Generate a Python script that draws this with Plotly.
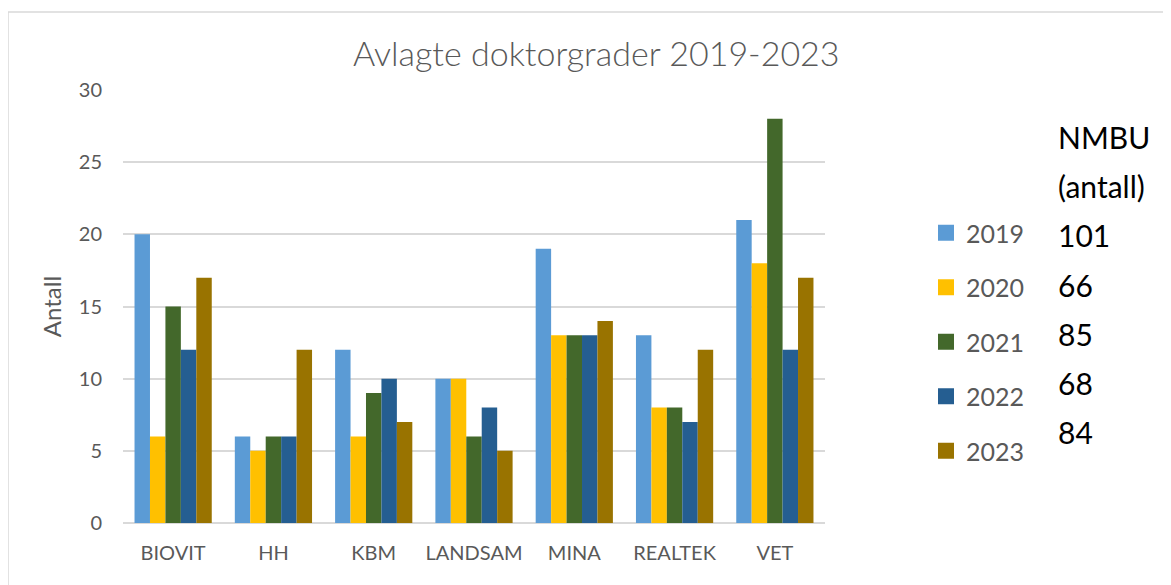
import plotly.graph_objects as go

categories = ["BIOVIT", "HH", "KBM", "LANDSAM", "MINA", "REALTEK", "VET"]
years = ["2019", "2020", "2021", "2022", "2023"]
v2019 = [20, 6, 12, 10, 19, 13, 21]
v2020 = [6, 5, 6, 10, 13, 8, 18]
v2021 = [15, 6, 9, 6, 13, 8, 28]
v2022 = [12, 6, 10, 8, 13, 7, 12]
v2023 = [17, 12, 7, 5, 14, 12, 17]
series = [v2019, v2020, v2021, v2022, v2023]
colors = ["#5B9BD5", "#FFC000", "#43682B", "#255E91", "#997300"]
totals = [sum(s) for s in series]

OFF = 8  # page body margin
W, H = 1171 - OFF, 585 - OFF
L, R, T, B = 123 - OFF, 825 - OFF, 90 - OFF, 523 - OFF
FONT = "Lato"
GRAY = "#595959"

fig = go.Figure()
for y, vals, c in zip(years, series, colors):
    fig.add_trace(go.Bar(name=y, x=categories, y=vals, marker=dict(color=c, line=dict(width=0)),
                         showlegend=False))
    fig.add_trace(go.Scatter(name=y, x=[None], y=[None], mode="markers",
                             marker=dict(symbol="square", size=16, color=c),
                             legendgroup=y, showlegend=True))

def px(x):
    return (x - OFF - L) / (R - L)

def py(y):
    return (B - (y - OFF)) / (B - T)

annotations = [
    dict(text="Avlagte doktorgrader 2019-2023", x=px(596), y=py(53), xref="paper", yref="paper",
         showarrow=False, font=dict(family=FONT, size=34, color=GRAY, weight=300),
         xanchor="center", yanchor="middle"),
]
labels = ["NMBU", "(antall)"] + [str(t) for t in totals]
for i, lab in enumerate(labels):
    annotations.append(dict(text=lab, x=px(1056), y=py(137 + 49.2 * i), xref="paper", yref="paper",
                            showarrow=False, xanchor="left", yanchor="middle",
                            font=dict(family=FONT, size=30, color="black")))

fig.update_layout(
    width=W, height=H,
    margin=dict(l=L, r=W - R, t=T, b=H - B, autoexpand=False),
    paper_bgcolor="white", plot_bgcolor="white",
    barmode="group", bargap=0.23, bargroupgap=0,
    font=dict(family=FONT, color=GRAY),
    showlegend=True,
    legend=dict(x=px(926), xanchor="left", y=py(210), yanchor="top",
                font=dict(family=FONT, size=25, color=GRAY),
                tracegroupgap=19, itemsizing="trace", bgcolor="rgba(0,0,0,0)"),
    annotations=annotations,
    shapes=[dict(type="rect", xref="paper", yref="paper", x0=px(8), x1=px(1300), y0=py(700), y1=py(12),
                 line=dict(color="#D9D9D9", width=1.5), fillcolor="rgba(0,0,0,0)", layer="below")],
)
fig.update_xaxes(showgrid=False, showline=False, ticks="", tickfont=dict(family=FONT, size=20, color=GRAY),
                 ticklabelstandoff=16)
fig.update_yaxes(range=[0, 30], dtick=5, showgrid=True, gridcolor="#D9D9D9", gridwidth=1.5,
                 zeroline=True, zerolinecolor="#D9D9D9", zerolinewidth=2, showline=False, ticks="",
                 tickfont=dict(family=FONT, size=20, color=GRAY), ticklabelstandoff=20,
                 title=dict(text="Antall", font=dict(family=FONT, size=24, color=GRAY), standoff=10))

fig.write_html("out.html")
